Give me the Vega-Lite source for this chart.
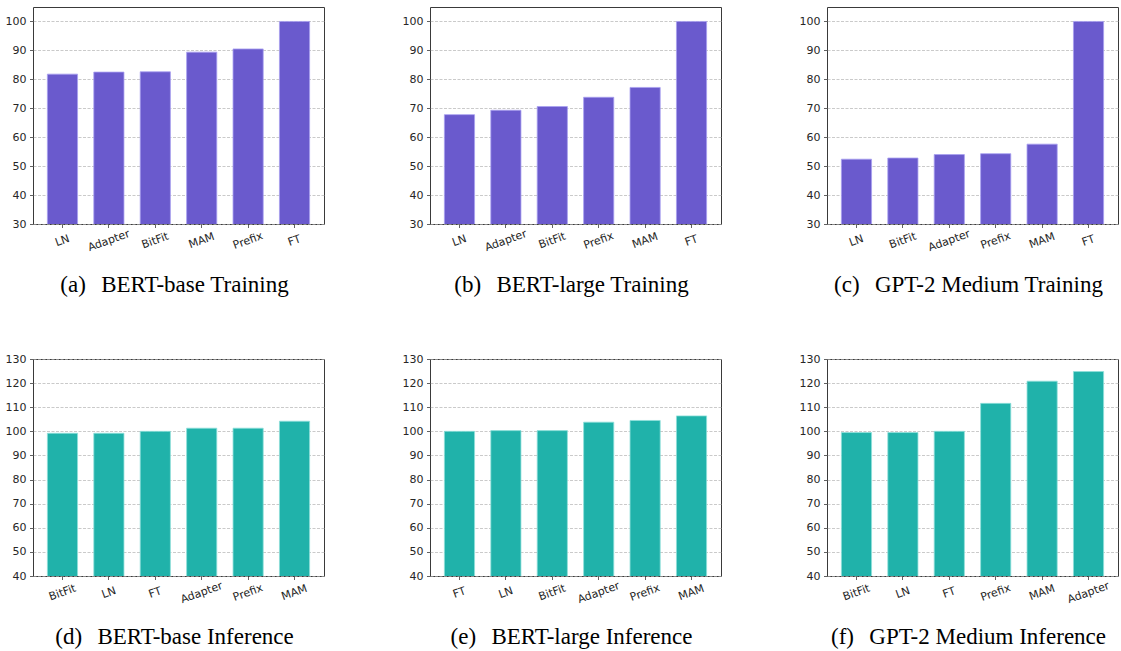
{
  "$schema": "https://vega.github.io/schema/vega-lite/v6.json",
  "background": "white",
  "padding": {"left": 4, "top": 6, "right": 4, "bottom": 5},
  "bounds": "flush",
  "columns": 3,
  "spacing": {"row": 135, "column": 106},
  "datasets": {
    "a": [{"method": "LN", "value": 81.8}, {"method": "Adapter", "value": 82.5}, {"method": "BitFit", "value": 82.6}, {"method": "MAM", "value": 89.4}, {"method": "Prefix", "value": 90.5}, {"method": "FT", "value": 100}],
    "b": [{"method": "LN", "value": 67.8}, {"method": "Adapter", "value": 69.3}, {"method": "BitFit", "value": 70.6}, {"method": "Prefix", "value": 73.8}, {"method": "MAM", "value": 77.2}, {"method": "FT", "value": 100}],
    "c": [{"method": "LN", "value": 52.4}, {"method": "BitFit", "value": 52.8}, {"method": "Adapter", "value": 54.0}, {"method": "Prefix", "value": 54.3}, {"method": "MAM", "value": 57.6}, {"method": "FT", "value": 100}],
    "d": [{"method": "BitFit", "value": 99.2}, {"method": "LN", "value": 99.2}, {"method": "FT", "value": 100}, {"method": "Adapter", "value": 101.3}, {"method": "Prefix", "value": 101.3}, {"method": "MAM", "value": 104.2}],
    "e": [{"method": "FT", "value": 100}, {"method": "LN", "value": 100.3}, {"method": "BitFit", "value": 100.3}, {"method": "Adapter", "value": 103.8}, {"method": "Prefix", "value": 104.5}, {"method": "MAM", "value": 106.4}],
    "f": [{"method": "BitFit", "value": 99.5}, {"method": "LN", "value": 99.5}, {"method": "FT", "value": 100}, {"method": "Prefix", "value": 111.6}, {"method": "MAM", "value": 120.8}, {"method": "Adapter", "value": 124.8}]
  },
  "concat": [
    {"width": 291, "height": 217, "data": {"name": "a"},
     "mark": {"type": "bar", "clip": true, "color": "#6A5ACD", "stroke": "#a89ff0", "strokeWidth": 0.8},
     "encoding": {
       "x": {"field": "method", "type": "nominal", "sort": null, "scale": {"paddingInner": 0.35, "paddingOuter": 0.31}, "axis": {"title": "(a)\u2002\u2006BERT-base Training"}},
       "y": {"field": "value", "type": "quantitative", "scale": {"domain": [30, 105], "zero": false, "nice": false}, "axis": {"title": null, "values": [30, 40, 50, 60, 70, 80, 90, 100]}}
     }},
    {"width": 291, "height": 217, "data": {"name": "b"},
     "mark": {"type": "bar", "clip": true, "color": "#6A5ACD", "stroke": "#a89ff0", "strokeWidth": 0.8},
     "encoding": {
       "x": {"field": "method", "type": "nominal", "sort": null, "scale": {"paddingInner": 0.35, "paddingOuter": 0.31}, "axis": {"title": "(b)\u2002\u2006BERT-large Training"}},
       "y": {"field": "value", "type": "quantitative", "scale": {"domain": [30, 105], "zero": false, "nice": false}, "axis": {"title": null, "values": [30, 40, 50, 60, 70, 80, 90, 100]}}
     }},
    {"width": 291, "height": 217, "data": {"name": "c"},
     "mark": {"type": "bar", "clip": true, "color": "#6A5ACD", "stroke": "#a89ff0", "strokeWidth": 0.8},
     "encoding": {
       "x": {"field": "method", "type": "nominal", "sort": null, "scale": {"paddingInner": 0.35, "paddingOuter": 0.31}, "axis": {"title": "(c)\u2002\u2006GPT-2 Medium Training"}},
       "y": {"field": "value", "type": "quantitative", "scale": {"domain": [30, 105], "zero": false, "nice": false}, "axis": {"title": null, "values": [30, 40, 50, 60, 70, 80, 90, 100]}}
     }},
    {"width": 291, "height": 217, "data": {"name": "d"},
     "mark": {"type": "bar", "clip": true, "color": "#20B2AA", "stroke": "#8fe0da", "strokeWidth": 0.8},
     "encoding": {
       "x": {"field": "method", "type": "nominal", "sort": null, "scale": {"paddingInner": 0.35, "paddingOuter": 0.31}, "axis": {"title": "(d)\u2002\u2006BERT-base Inference"}},
       "y": {"field": "value", "type": "quantitative", "scale": {"domain": [40, 130], "zero": false, "nice": false}, "axis": {"title": null, "values": [40, 50, 60, 70, 80, 90, 100, 110, 120, 130]}}
     }},
    {"width": 291, "height": 217, "data": {"name": "e"},
     "mark": {"type": "bar", "clip": true, "color": "#20B2AA", "stroke": "#8fe0da", "strokeWidth": 0.8},
     "encoding": {
       "x": {"field": "method", "type": "nominal", "sort": null, "scale": {"paddingInner": 0.35, "paddingOuter": 0.31}, "axis": {"title": "(e)\u2002\u2006BERT-large Inference"}},
       "y": {"field": "value", "type": "quantitative", "scale": {"domain": [40, 130], "zero": false, "nice": false}, "axis": {"title": null, "values": [40, 50, 60, 70, 80, 90, 100, 110, 120, 130]}}
     }},
    {"width": 291, "height": 217, "data": {"name": "f"},
     "mark": {"type": "bar", "clip": true, "color": "#20B2AA", "stroke": "#8fe0da", "strokeWidth": 0.8},
     "encoding": {
       "x": {"field": "method", "type": "nominal", "sort": null, "scale": {"paddingInner": 0.35, "paddingOuter": 0.31}, "axis": {"title": "(f)\u2002\u2006GPT-2 Medium Inference"}},
       "y": {"field": "value", "type": "quantitative", "scale": {"domain": [40, 130], "zero": false, "nice": false}, "axis": {"title": null, "values": [40, 50, 60, 70, 80, 90, 100, 110, 120, 130]}}
     }}
  ],
  "config": {
    "view": {"stroke": "#3a3a3a", "strokeWidth": 1},
    "axis": {"labelFont": "DejaVu Sans", "labelFontSize": 11, "labelColor": "#262626", "tickColor": "#3a3a3a", "tickSize": 3.5, "tickWidth": 0.8, "domain": false, "labelPadding": 3.5},
    "axisY": {"grid": true, "gridColor": "#b0b0b0", "gridOpacity": 0.85, "gridDash": [3, 1.5], "gridWidth": 0.8, "zindex": 1},
    "axisX": {"grid": false, "labelAngle": -20, "labelBaseline": "middle", "labelAlign": "center", "labelPadding": 13, "titleFont": "Liberation Serif", "titleFontSize": 23, "titleFontWeight": "normal", "titleColor": "black", "titleY": 67, "titleBaseline": "alphabetic", "titleX": 141, "titleAlign": "center", "titleAnchor": null}
  }
}
